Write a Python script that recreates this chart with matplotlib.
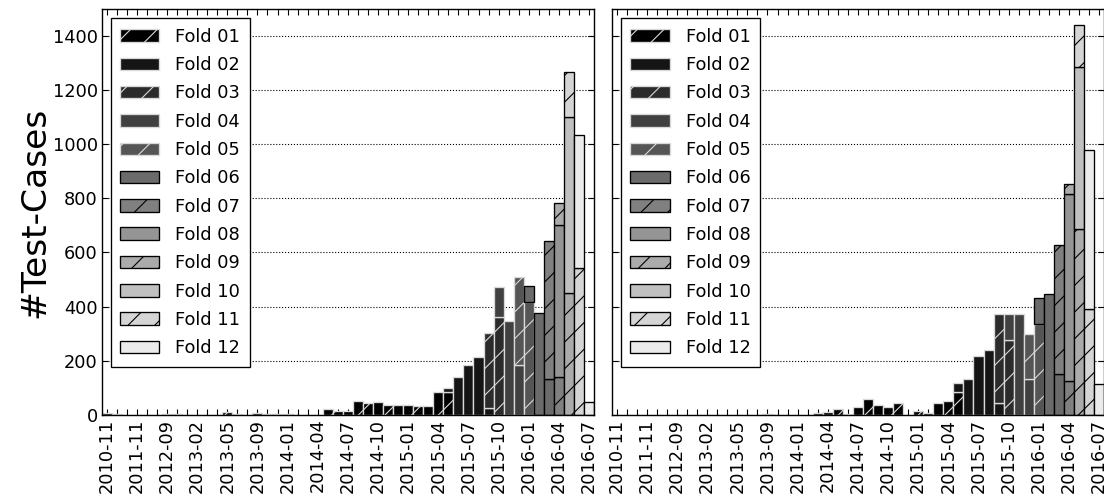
import matplotlib
matplotlib.use("Agg")
import matplotlib.pyplot as plt
import numpy as np

# months that have at least one test case (x categories)
months = [
    "2010-11", "2011-02", "2011-08", "2011-11", "2012-02", "2012-06",
    "2012-09", "2012-11", "2013-01", "2013-02", "2013-03", "2013-04",
    "2013-05", "2013-06", "2013-07", "2013-09", "2013-10", "2013-12",
    "2014-01", "2014-02", "2014-03", "2014-04", "2014-05", "2014-06",
    "2014-07", "2014-08", "2014-09", "2014-10", "2014-11", "2014-12",
    "2015-01", "2015-02", "2015-03", "2015-04", "2015-05", "2015-06",
    "2015-07", "2015-08", "2015-09", "2015-10", "2015-11", "2015-12",
    "2016-01", "2016-02", "2016-03", "2016-04", "2016-05", "2016-06",
    "2016-07",
]

fold_names = ["Fold %02d" % k for k in range(1, 13)]
fold_grays = np.linspace(0.0, 0.92, 12)

# test cases per month for every fold, left run
left_folds = [
    {"2010-11": 5, "2011-02": 2, "2012-09": 4, "2012-11": 2, "2013-05": 12,
     "2013-06": 2, "2013-09": 5, "2013-10": 3, "2013-12": 4, "2014-01": 2,
     "2014-05": 20, "2014-06": 14, "2014-07": 15, "2014-08": 50, "2014-09": 42,
     "2014-10": 47, "2014-11": 37, "2014-12": 36, "2015-01": 36, "2015-02": 33,
     "2015-03": 34, "2015-04": 86, "2015-05": 84},
    {"2015-05": 16, "2015-06": 138, "2015-07": 185, "2015-08": 212, "2015-09": 26},
    {"2015-09": 276, "2015-10": 362},
    {"2015-10": 110, "2015-11": 346, "2015-12": 184},
    {"2015-12": 324, "2016-01": 418},
    {"2016-01": 58, "2016-02": 377, "2016-03": 132},
    {"2016-03": 509, "2016-04": 139},
    {"2016-04": 561},
    {"2016-04": 82, "2016-05": 452},
    {"2016-05": 649},
    {"2016-05": 167, "2016-06": 542},
    {"2016-06": 494, "2016-07": 49},
]

# test cases per month for every fold, right run
right_folds = [
    {"2013-09": 3, "2014-03": 5, "2014-04": 11, "2014-05": 20, "2014-06": 4,
     "2014-07": 30, "2014-08": 60, "2014-09": 37, "2014-10": 30, "2014-11": 45,
     "2015-01": 13, "2015-02": 5, "2015-03": 45, "2015-04": 52, "2015-05": 83},
    {"2015-05": 34, "2015-06": 133, "2015-07": 218, "2015-08": 238, "2015-09": 43},
    {"2015-09": 330, "2015-10": 275},
    {"2015-10": 98, "2015-11": 373, "2015-12": 132},
    {"2015-12": 167, "2016-01": 336},
    {"2016-01": 95, "2016-02": 446, "2016-03": 150},
    {"2016-03": 476, "2016-04": 126},
    {"2016-04": 691},
    {"2016-04": 37, "2016-05": 686},
    {"2016-05": 599},
    {"2016-05": 156, "2016-06": 390},
    {"2016-06": 589, "2016-07": 115},
]

FS = 16


def draw_panel(ax, folds):
    x = np.arange(len(months))
    bottom = np.zeros(len(months))
    for k, counts in enumerate(folds):
        h = np.array([counts.get(m, 0) for m in months], dtype=float)
        keep = h > 0
        dark = k < 5
        ax.bar(x[keep], h[keep], width=1.0, bottom=bottom[keep],
               color=str(fold_grays[k]),
               edgecolor="0.85" if dark else "black",
               hatch="/" if k % 2 == 0 else None,
               linewidth=1.2, label=fold_names[k], zorder=2)
        bottom += h

    ax.set_xlim(-0.5, len(months) - 0.5)
    ax.set_ylim(0, 1500)
    ax.set_xticks(x)
    ax.set_xticklabels([m if i % 3 == 0 else "" for i, m in enumerate(months)],
                       rotation=90, fontsize=FS)
    ax.set_yticks(np.arange(0, 1401, 200))
    ax.tick_params(direction="in", top=True, right=True, length=5, width=1.0,
                   labelsize=FS)
    ax.yaxis.grid(True, linestyle=":", color="black", linewidth=1.0)
    ax.set_axisbelow(True)
    for s in ax.spines.values():
        s.set_linewidth(1.25)
    leg = ax.legend(loc="upper left", fontsize=FS, fancybox=False, framealpha=1,
                    borderpad=0.55, labelspacing=0.58, handlelength=2.2,
                    handletextpad=0.9, borderaxespad=0.5)
    leg.get_frame().set_edgecolor("black")
    leg.get_frame().set_linewidth(1.2)


fig = plt.figure(figsize=(13.8, 6.275), dpi=80)
ax1 = fig.add_axes([0.0921, 0.1737, 0.4460, 0.8083])
ax2 = fig.add_axes([0.5541, 0.1737, 0.4460, 0.8083])

draw_panel(ax1, left_folds)
draw_panel(ax2, right_folds)
ax2.set_yticklabels([])
ax1.set_ylabel("#Test-Cases", fontsize=31, labelpad=1)

fig.savefig("out.png", dpi=80)
